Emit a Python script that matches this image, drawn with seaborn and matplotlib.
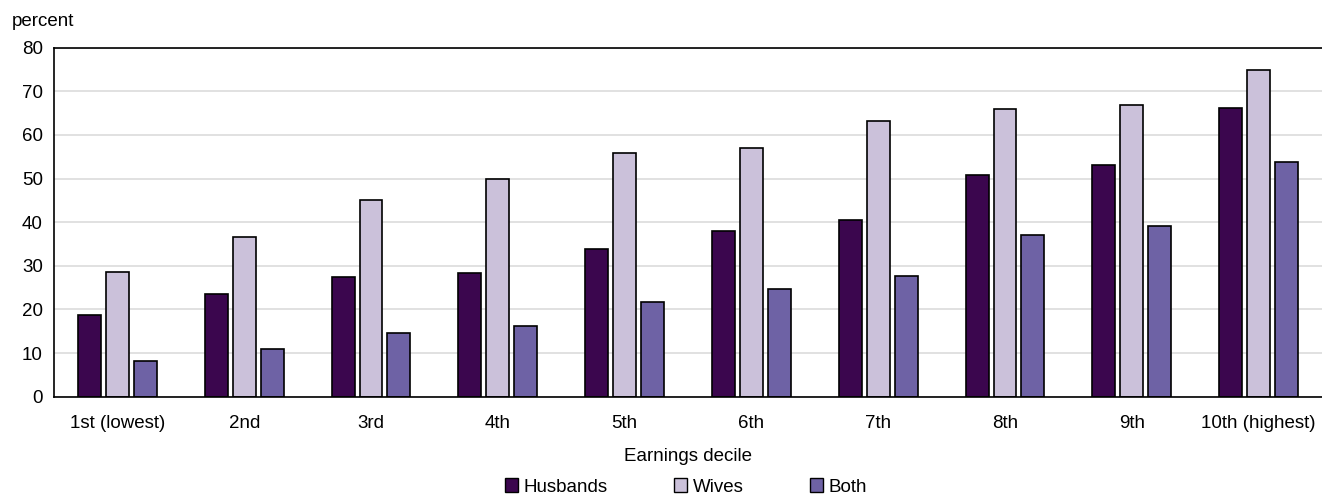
import pandas as pd
import seaborn as sns
import matplotlib.pyplot as plt

# Veriler
deciles = ['1st (lowest)', '2nd', '3rd', '4th', '5th', '6th', '7th', '8th', '9th', '10th (highest)']
husbands = [18.7, 23.5, 27.4, 28.3, 33.8, 38.0, 40.5, 50.8, 53.1, 66.2]
wives = [28.6, 36.5, 45.1, 50.0, 55.8, 57.1, 63.3, 65.9, 66.8, 74.8]
both = [8.2, 10.9, 14.7, 16.3, 21.7, 24.6, 27.7, 37.0, 39.1, 53.9]
groups = ['Husbands', 'Wives', 'Both']
colors = ['#3b064e', '#cbc1da', '#6e62a5']

df = pd.DataFrame({'decile': deciles, 'Husbands': husbands, 'Wives': wives, 'Both': both})
df = df.melt(id_vars='decile', var_name='group', value_name='pct')

sns.set_style('white')
plt.rcParams['font.family'] = ['Liberation Sans Narrow', 'Liberation Sans', 'DejaVu Sans']
plt.rcParams['text.color'] = 'black'
plt.rcParams['xtick.color'] = 'black'
plt.rcParams['ytick.color'] = 'black'
plt.rcParams['axes.labelcolor'] = 'black'

fig = plt.figure(figsize=(13.22, 4.94), dpi=100)
ax = fig.add_axes([54 / 1322, 1 - 396.7 / 494, 1 - 54 / 1322, 349 / 494])

sns.barplot(data=df, x='decile', y='pct', hue='group', hue_order=groups,
            palette=colors, saturation=1, width=0.66, gap=0.18, edgecolor='black',
            linewidth=1.2, ax=ax, legend=False)

ax.set_ylim(0, 80)
ax.set_xlim(-0.5, 9.5)
ax.set_yticks(range(0, 81, 10))
ax.yaxis.grid(True, color='#dcdcdc', linewidth=1.2)
ax.set_axisbelow(True)
for s in ['top', 'left', 'bottom']:
    ax.spines[s].set_visible(True)
    ax.spines[s].set_color('black')
    ax.spines[s].set_linewidth(1.2)
ax.spines['right'].set_visible(False)
ax.tick_params(axis='both', labelsize=13.5, length=0)
ax.tick_params(axis='x', pad=13)
ax.tick_params(axis='y', pad=8)
ax.set_xlabel('Earnings decile', fontsize=13.5, labelpad=12)
ax.set_ylabel('')
fig.text(12 / 1322, 1 - 22 / 494, 'percent', fontsize=13.5, va='center', ha='left')

# Lejant
handles = [plt.Rectangle((0, 0), 1, 1, facecolor=c, edgecolor='black', linewidth=1) for c in colors]
fig.legend(handles, groups, loc='center', bbox_to_anchor=(686 / 1322, 1 - 487 / 494), ncol=3,
           frameon=False, fontsize=13.5, handlelength=0.7, handleheight=0.7,
           handletextpad=0.3, columnspacing=3.55)

fig.savefig('out.png', dpi=100)
